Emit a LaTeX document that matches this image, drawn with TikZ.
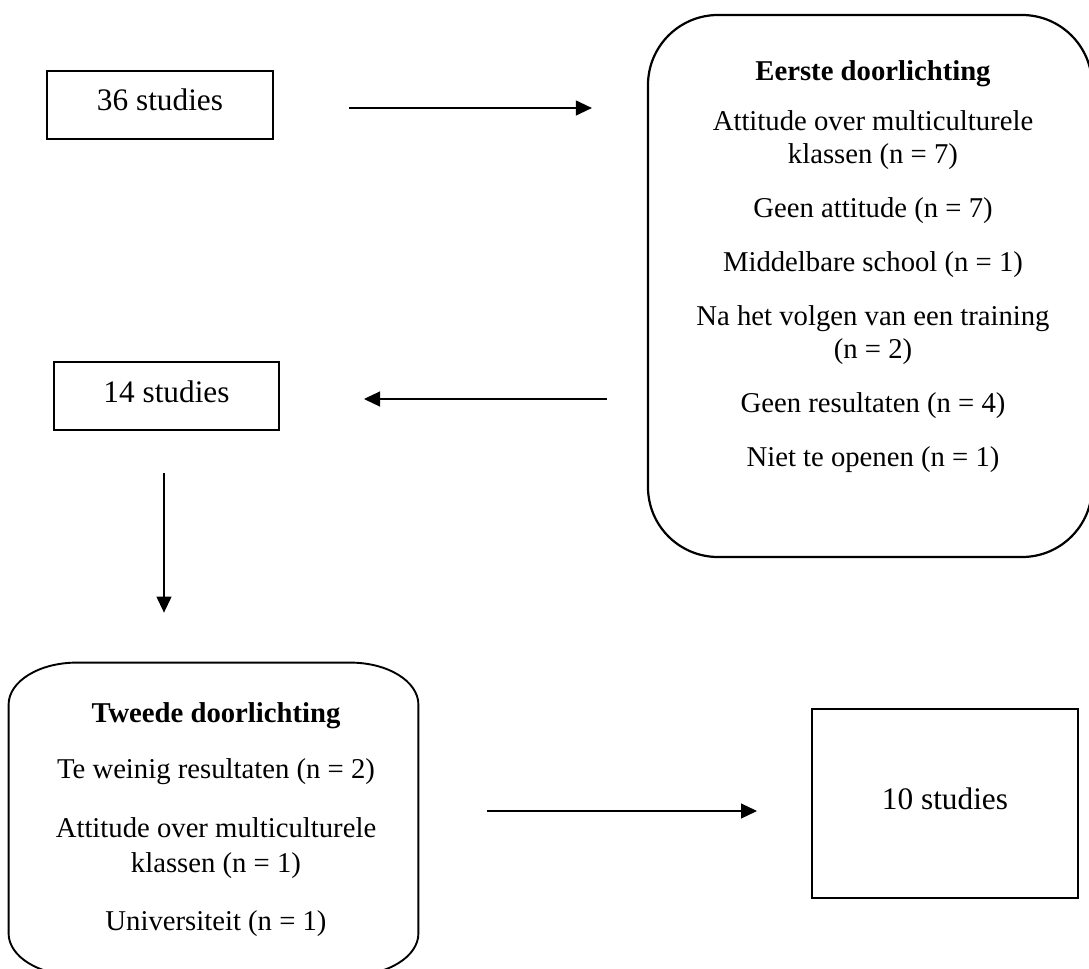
\documentclass[tikz,border=0pt]{standalone}
\usepackage{fontspec}
\setmainfont{Liberation Serif}
\usetikzlibrary{arrows.meta}
\tikzset{
  sbox/.style={draw, line width=1pt, rectangle, inner sep=0pt,
    font=\fontsize{15.65pt}{18pt}\selectfont, text height=10pt, text depth=4pt},
  rbox/.style={draw, line width=1.1pt, rectangle, rounded corners=35pt},
  frame/.style={rectangle, inner sep=0pt},
  tbox/.style={align=center, inner sep=0pt, anchor=north,
    font=\fontsize{14.35pt}{16.5pt}\selectfont},
  arr/.style={line width=0.6pt, -{Triangle[length=8pt, width=7.5pt]}}
}
\begin{document}
\begin{tikzpicture}[x=0.5pt, y=-0.5pt]
\useasboundingbox (0,0) rectangle (1089,969);
\clip (0,0) rectangle (1089,969);
\fill[white] (0,0) rectangle (1089,969);

% simple boxes
\node[sbox, minimum width=113pt, minimum height=34pt] (box36) at (160,105) {36 studies};
\node[sbox, minimum width=112.5pt, minimum height=34pt] (box14) at (166.5,396) {14 studies};
\node[sbox, minimum width=133pt, minimum height=94.5pt] (ten) at (945,803.5) {10 studies};

% first screening
\node[rbox, minimum width=222pt, minimum height=271pt] (eerste) at (870,286) {};
\node[tbox] (eertext) at (873,60) {\rule{0pt}{10pt}\textbf{Eerste doorlichting}\\[8.5pt]
  Attitude over multiculturele\\
  klassen (n = 7)\\[10.5pt]
  Geen attitude (n = 7)\\[10.5pt]
  Middelbare school (n = 1)\\[10.5pt]
  Na het volgen van een training\\
  (n = 2)\\[10.5pt]
  Geen resultaten (n = 4)\\[10.5pt]
  Niet te openen (n = 1)};

% second screening
\node[frame, minimum width=204.5pt, minimum height=156pt] (tweede) at (213.5,819) {};
\draw[line width=0.95pt]
  ([xshift=34pt]tweede.north west) -- ([xshift=-34pt]tweede.north east)
  arc[start angle=90, end angle=0, x radius=34pt, y radius=21pt]
  -- ([yshift=21pt]tweede.south east)
  arc[start angle=0, end angle=-90, x radius=34pt, y radius=21pt]
  -- ([xshift=34pt]tweede.south west)
  arc[start angle=270, end angle=180, x radius=34pt, y radius=21pt]
  -- ([yshift=-21pt]tweede.north west)
  arc[start angle=180, end angle=90, x radius=34pt, y radius=21pt]
  -- cycle;
\node[tbox] (tweetext) at (216,702) {\rule{0pt}{10pt}\textbf{Tweede doorlichting}\\[11.5pt]
  Te weinig resultaten (n = 2)\\[13pt]
  Attitude over multiculturele\\[1pt]
  klassen (n = 1)\\[12.5pt]
  Universiteit (n = 1)};

% connectors
\draw[arr, shorten <=37.5pt, shorten >=27.5pt]
  ([yshift=-1.5pt]box36.east) -- ([yshift=-1.5pt]box36.east -| eerste.west);
\draw[arr, shorten <=20pt, shorten >=42pt]
  ([yshift=-1.5pt]box14.east -| eerste.west) -- ([yshift=-1.5pt]box14.east);
\draw[arr, shorten <=21pt, shorten >=25pt]
  ([xshift=-1.25pt]box14.south) -- ([xshift=-1.25pt]box14.south |- tweede.north);
\draw[arr, shorten <=34.5pt, shorten >=27pt]
  ([yshift=-3.75pt]ten.west -| tweede.east) -- ([yshift=-3.75pt]ten.west);
\end{tikzpicture}
\end{document}
